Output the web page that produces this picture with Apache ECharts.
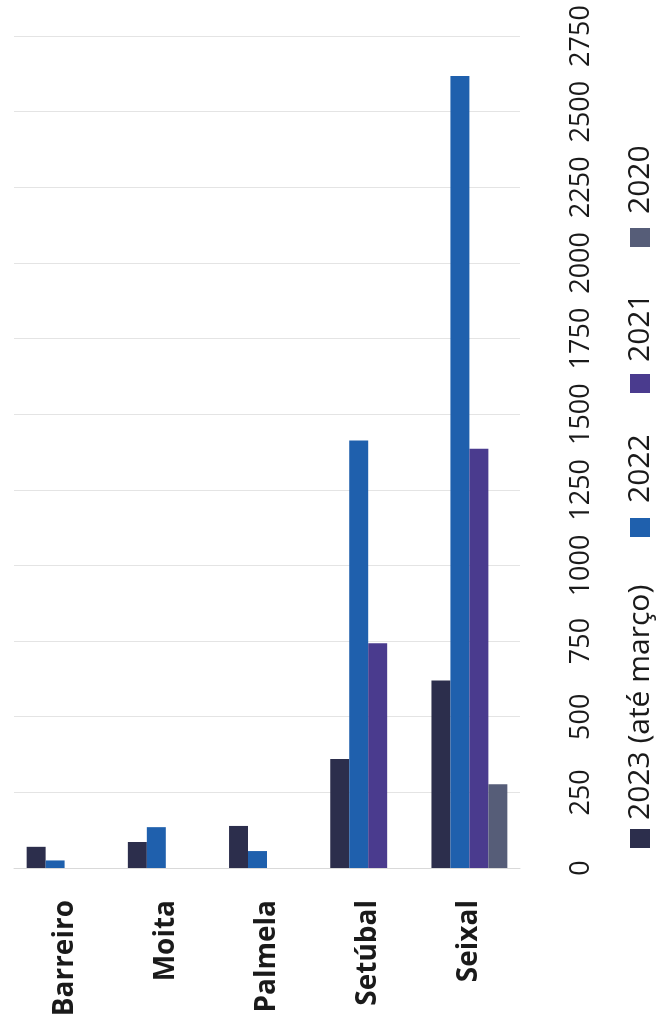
<!DOCTYPE html>
<html>
<head>
<meta charset="utf-8">
<script src="https://cdn.jsdelivr.net/npm/echarts@6/dist/echarts.min.js"></script>
<style>
html,body{margin:0;padding:0;background:#fff;}
#chart{width:657px;height:1029px;}
</style>
</head>
<body>
<div id="chart"></div>
<script>
const categories = ['Barreiro', 'Moita', 'Palmela', 'Setúbal', 'Seixal'];
const seriesNames = ['2023 (até março)', '2022', '2021', '2020'];
const v2023 = [70, 86, 139, 360, 620];
const v2022 = [25, 135, 56, 1413, 2618];
const v2021 = [null, null, null, 743, 1386];
const v2020 = [null, null, null, null, 277];
const colors = ['#2c2e4c', '#1f60ad', '#4a3b8e', '#565d78'];

const chart = echarts.init(document.getElementById('chart'), null, {renderer: 'canvas'});
const FONT = 'Open Sans';

// legend drawn as rotated graphic (text reads bottom-to-top)
const legendLayout = [
  {sq: 0, tx: 28},
  {sq: 311, tx: 345},
  {sq: 455, tx: 486},
  {sq: 601, tx: 634}
];
const legendChildren = [];
seriesNames.forEach((n, i) => {
  legendChildren.push({
    type: 'rect', shape: {x: legendLayout[i].sq, y: 3, width: 19, height: 20},
    style: {fill: colors[i]}
  });
  legendChildren.push({
    type: 'text', x: legendLayout[i].tx, y: 13,
    style: {text: n, fill: '#1a1a1a', font: '500 30px "' + FONT + '"', textAlign: 'left', textVerticalAlign: 'middle'}
  });
});

chart.setOption({
  animation: false,
  backgroundColor: '#ffffff',
  grid: {left: 14, right: 137, top: 36, bottom: 161, containLabel: false},
  xAxis: {
    type: 'category',
    data: categories,
    axisLine: {show: true, lineStyle: {color: '#d9d9d9', width: 1}},
    axisTick: {show: false},
    axisLabel: {
      rotate: 90, margin: 32, interval: 0,
      fontFamily: FONT, fontWeight: 'bold', fontSize: 28, color: '#1a1a1a'
    }
  },
  yAxis: {
    type: 'value',
    position: 'right',
    min: 0, max: 2750, interval: 250,
    axisLine: {show: false},
    axisTick: {show: false},
    splitLine: {lineStyle: {color: '#e4e4e4', width: 1}},
    axisLabel: {
      rotate: 90, margin: 48, hideOverlap: false,
      formatter: v => String(v),
      fontFamily: FONT, fontSize: 27, color: '#1a1a1a'
    }
  },
  series: [
    {name: seriesNames[0], type: 'bar', data: v2023, itemStyle: {color: colors[0]}, barGap: '0%', barCategoryGap: '25%'},
    {name: seriesNames[1], type: 'bar', data: v2022, itemStyle: {color: colors[1]}, barGap: '0%', barCategoryGap: '25%'},
    {name: seriesNames[2], type: 'bar', data: v2021, itemStyle: {color: colors[2]}, barGap: '0%', barCategoryGap: '25%'},
    {name: seriesNames[3], type: 'bar', data: v2020, itemStyle: {color: colors[3]}, barGap: '0%', barCategoryGap: '25%'}
  ],
  graphic: [{
    type: 'group', x: 627, y: 848, rotation: Math.PI / 2,
    children: legendChildren
  }]
});
</script>
</body>
</html>
